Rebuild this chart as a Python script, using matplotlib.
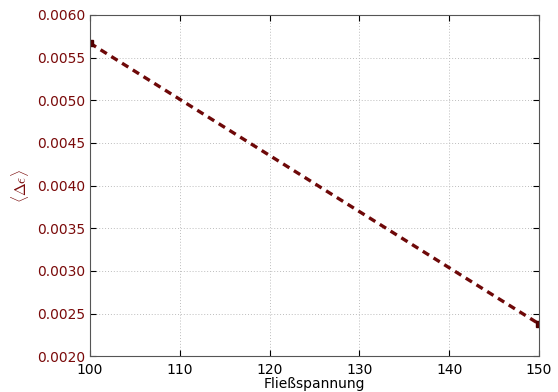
import matplotlib
matplotlib.use('Agg')
import matplotlib.pyplot as plt

plt.rcParams['mathtext.fontset'] = 'cm'

# data
fliess = [100, 150]
delta_eps = [0.00567, 0.00238]
yticks = [0.0020, 0.0025, 0.0030, 0.0035, 0.0040, 0.0045, 0.0050, 0.0055, 0.0060]
xticks = [100, 110, 120, 130, 140, 150]

red = '#7a0a0a'

fig = plt.figure(figsize=(5.58, 3.92), dpi=100)
ax = fig.add_axes([0.161, 0.091, 0.805, 0.871])

ax.plot(fliess, delta_eps, color='#6e0808', linestyle='--', dashes=(2.2, 1.6), lw=2.4,
        marker='s', markersize=5, markeredgecolor='#4a0000', markerfacecolor='#5a0000')

ax.set_xlim(100, 150)
ax.set_ylim(0.0020, 0.0060)
ax.set_xticks(xticks)
ax.set_yticks(yticks)
ax.set_yticklabels(['%.4f' % v for v in yticks])
ax.tick_params(direction='in', top=True, right=True, length=4, labelsize=10)
ax.tick_params(axis='x', pad=5)
for lbl in ax.get_yticklabels():
    lbl.set_color(red)

ax.grid(True, color='#bdbdbd', linestyle=(0, (1, 2)), linewidth=0.7)
for s in ax.spines.values():
    s.set_color('#555555')

ax.set_xlabel('Fließspannung', fontsize=10, labelpad=0)
ax.set_ylabel(r'$\langle \Delta \epsilon \rangle$', color=red, fontsize=11, labelpad=4)

fig.savefig('out.png', dpi=100)
